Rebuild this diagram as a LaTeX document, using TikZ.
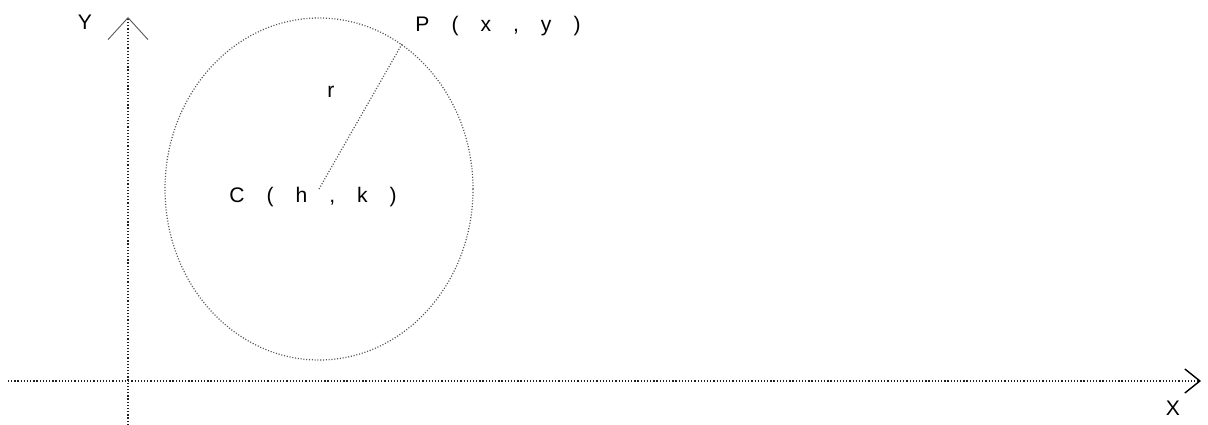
\documentclass[tikz,border=0pt]{standalone}
\usepackage{fontspec}
\setsansfont{Liberation Sans}
\usetikzlibrary{arrows.meta,positioning,calc}
\definecolor{dotink}{HTML}{202020}
\definecolor{rimink}{HTML}{555555}
\newcommand{\gapsp}{\hspace{4.4mm}}

\begin{document}
\begin{tikzpicture}[x=0.2mm, y=-0.2mm,
  font=\sffamily\fontsize{12}{14}\selectfont,
  axis/.style={draw=dotink, line width=0.8pt, dash pattern=on 0.7pt off 1.1pt},
  rim/.style={draw=rimink, line width=0.7pt, dash pattern=on 0.6pt off 1pt},
  lbl/.style={anchor=base, inner sep=0pt, text=black}]
\useasboundingbox (0,0) rectangle (1208,425);
\coordinate (ybot) at (128,425);
\coordinate (ytop) at (128,17);
\coordinate (xlft) at (8,381);
\coordinate (xrgt) at (1201,381);
\coordinate (ctr) at (319,189);
\coordinate (P) at (402,44);
\draw[axis, -{Straight Barb[length=4.4mm, width=8mm, line width=0.5pt, color=rimink]}]
  (ybot) -- (ytop);
\draw[axis, -{Straight Barb[length=3mm, width=4.8mm, line width=0.8pt, color=black]}]
  (xlft) -- (xrgt);
\draw[rim] (ctr) ellipse [x radius=30.8mm, y radius=34.2mm];
\draw[rim] (ctr) -- (P);
\node[lbl] (ylab) at (85,30) {Y};
\node[lbl] (xlab) at (1173,415) {X};
\node[lbl] (plab) at (498,32) {P\gapsp(\gapsp x\gapsp,\gapsp y\gapsp)};
\node[lbl] (rlab) at (331,98) {r};
\node[lbl] (clab) at (313,202) {C\gapsp(\gapsp h\gapsp,\gapsp k\gapsp)};
\end{tikzpicture}
\end{document}
